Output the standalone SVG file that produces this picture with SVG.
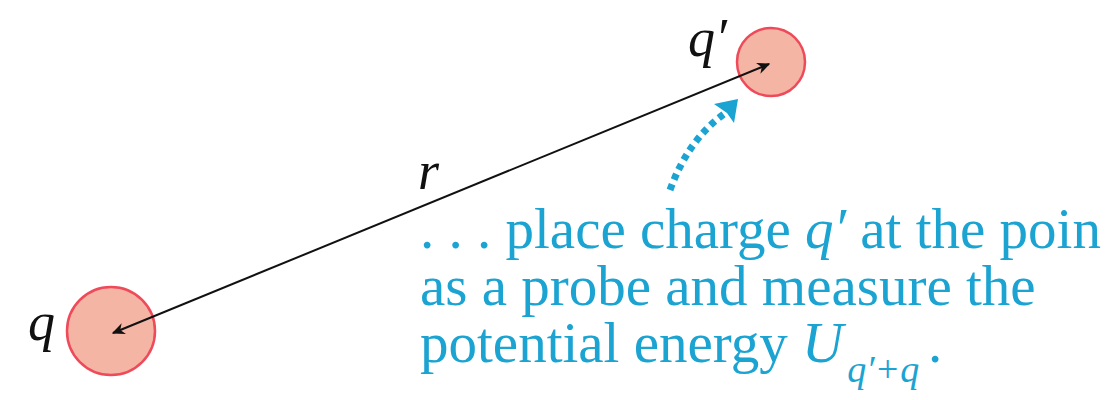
<svg xmlns="http://www.w3.org/2000/svg" width="1108" height="400" viewBox="0 0 1108 400">
<defs>
<marker id="ah" viewBox="0 0 10 10" refX="9" refY="5" markerWidth="13" markerHeight="13" orient="auto-start-reverse" markerUnits="userSpaceOnUse">
<path d="M0,0.5 L10,5 L0,9.5 L3,5 Z" fill="#111"/>
</marker>
</defs>
<g id="node-q">
<circle cx="111" cy="331" r="44" fill="#f5b5a5" stroke="#ee4a5a" stroke-width="2.5"/>
<text x="28" y="340" font-size="54" font-family="Liberation Serif" font-style="italic" fill="#111">q</text>
</g>
<g id="node-qp">
<circle cx="771" cy="62" r="34" fill="#f5b5a5" stroke="#ee4a5a" stroke-width="2.5"/>
<text x="688" y="56" font-size="54" font-family="Liberation Serif" font-style="italic" fill="#111">q&#8242;</text>
</g>
<g id="connectors">
<line x1="113" y1="333" x2="769" y2="64" stroke="#111" stroke-width="2" marker-start="url(#ah)" marker-end="url(#ah)"/>
<text x="418" y="189" font-size="54" font-family="Liberation Serif" font-style="italic" fill="#111">r</text>
<path d="M670,190 Q688,140 724,114" fill="none" stroke="#1ba3d2" stroke-width="7" stroke-dasharray="6,5"/>
<path d="M714,104 L738,99 L734,123 L727,113 Z" fill="#1ba3d2"/>
</g>
<g id="note" fill="#1ba3d2">
<text x="420" y="248" font-size="57" font-family="Liberation Serif">. . . place charge <tspan font-style="italic">q&#8242;</tspan> at the poin</text>
<text x="420" y="305" font-size="57" font-family="Liberation Serif">as a probe and measure the</text>
<text x="420" y="362" font-size="57" font-family="Liberation Serif">potential energy <tspan font-style="italic">U</tspan><tspan font-style="italic" font-size="38" dx="4" dy="20">q&#8242;+q</tspan><tspan x="928" y="362">.</tspan></text>
</g>
</svg>
